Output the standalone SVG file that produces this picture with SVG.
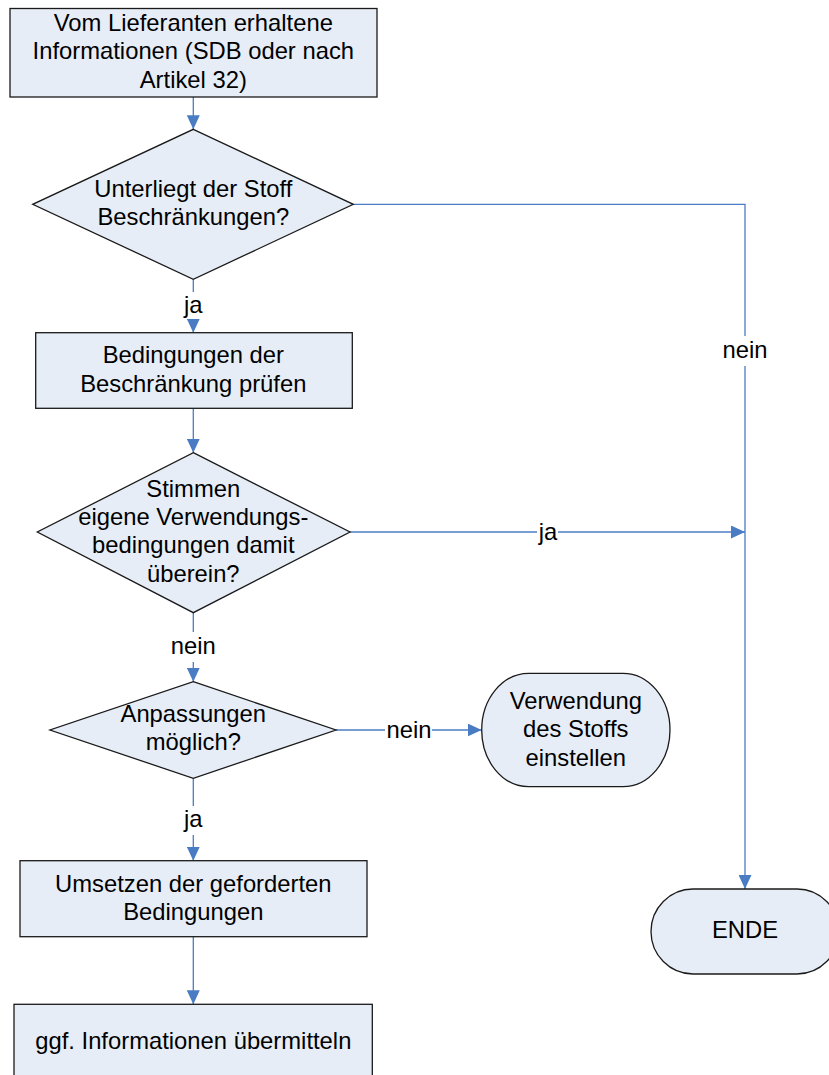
<svg xmlns="http://www.w3.org/2000/svg" width="829" height="1075" viewBox="0 0 829 1075">
<defs>
<style>
.n{fill:#E7EDF7;stroke:#1a1a1a;stroke-width:1.3}
.t{font-family:"Liberation Sans",Arial,sans-serif;font-size:23.8px;fill:#000;text-anchor:middle}
.c{fill:none;stroke:#4A7CC3;stroke-width:1.3}
.bg{fill:#fff}
</style>
<marker id="a" viewBox="0 0 14 13" refX="14" refY="6.5" markerWidth="14" markerHeight="13" markerUnits="userSpaceOnUse" orient="auto">
<path d="M0,0 L14,6.5 L0,13 Z" fill="#4A7CC3"/>
</marker>
</defs>
<rect width="829" height="1075" fill="#fff"/>
<g id="connectors">
<path class="c" d="M193.3,97 V129.3" marker-end="url(#a)"/>
<path class="c" d="M353.3,204.3 H745 V889" marker-end="url(#a)"/>
<path class="c" d="M193.3,279.3 V332.7" marker-end="url(#a)"/>
<path class="c" d="M193.3,408.3 V452.7" marker-end="url(#a)"/>
<path class="c" d="M350,532 H745" marker-end="url(#a)"/>
<path class="c" d="M193.3,612.7 V681.7" marker-end="url(#a)"/>
<path class="c" d="M336,730 H481.7" marker-end="url(#a)"/>
<path class="c" d="M193.3,778.3 V860.7" marker-end="url(#a)"/>
<path class="c" d="M193.3,936.7 V1004.3" marker-end="url(#a)"/>
<rect class="bg" x="179" y="292" width="29" height="27"/>
<text class="t" x="193.3" y="313">ja</text>
<rect class="bg" x="721" y="336" width="48" height="30"/>
<text class="t" x="745" y="358">nein</text>
<rect class="bg" x="537" y="522" width="21" height="20"/>
<text class="t" x="548" y="539.5">ja</text>
<rect class="bg" x="169" y="632" width="48" height="30"/>
<text class="t" x="193.3" y="654">nein</text>
<rect class="bg" x="385" y="720" width="47" height="22"/>
<text class="t" x="409" y="737.5">nein</text>
<rect class="bg" x="179" y="806" width="29" height="29"/>
<text class="t" x="193.3" y="827">ja</text>
</g>
<g id="n1">
<rect class="n" x="10" y="8.5" width="367" height="88.5"/>
<text class="t" x="193.3" y="30.7">Vom Lieferanten erhaltene</text>
<text class="t" x="193.3" y="59.3">Informationen (SDB oder nach</text>
<text class="t" x="193.3" y="88">Artikel 32)</text>
</g>
<g id="d1">
<polygon class="n" points="193.3,129.3 353.3,204.3 193.3,279.3 32.7,204.3"/>
<text class="t" x="193.3" y="196.7">Unterliegt der Stoff</text>
<text class="t" x="193.3" y="225">Beschränkungen?</text>
</g>
<g id="n2">
<rect class="n" x="35.7" y="332.7" width="316.6" height="75.6"/>
<text class="t" x="193.3" y="363.3">Bedingungen der</text>
<text class="t" x="193.3" y="391.7">Beschränkung prüfen</text>
</g>
<g id="d2">
<polygon class="n" points="193.3,452.7 350,532 193.3,612.7 37.3,532"/>
<text class="t" x="193.3" y="496.7">Stimmen</text>
<text class="t" x="193.3" y="524.5">eigene Verwendungs-</text>
<text class="t" x="193.3" y="553.3">bedingungen damit</text>
<text class="t" x="193.3" y="581.7">überein?</text>
</g>
<g id="d3">
<polygon class="n" points="193.3,681.7 336,730 193.3,778.3 50,730"/>
<text class="t" x="193.3" y="721.7">Anpassungen</text>
<text class="t" x="193.3" y="750">möglich?</text>
</g>
<g id="n3">
<rect class="n" x="481.7" y="673.3" width="188.3" height="113.4" rx="47" ry="56.7"/>
<text class="t" x="575.8" y="709.3">Verwendung</text>
<text class="t" x="575.8" y="737.3">des Stoffs</text>
<text class="t" x="575.8" y="765.7">einstellen</text>
</g>
<g id="n4">
<rect class="n" x="651" y="889" width="188" height="85" rx="42" ry="42.5"/>
<text class="t" x="745" y="938">ENDE</text>
</g>
<g id="n5">
<rect class="n" x="20" y="860.7" width="347" height="76"/>
<text class="t" x="193.3" y="891.7">Umsetzen der geforderten</text>
<text class="t" x="193.3" y="920">Bedingungen</text>
</g>
<g id="n6">
<rect class="n" x="14" y="1004.3" width="358.3" height="90"/>
<text class="t" x="193.3" y="1049.3">ggf. Informationen übermitteln</text>
</g>
</svg>
